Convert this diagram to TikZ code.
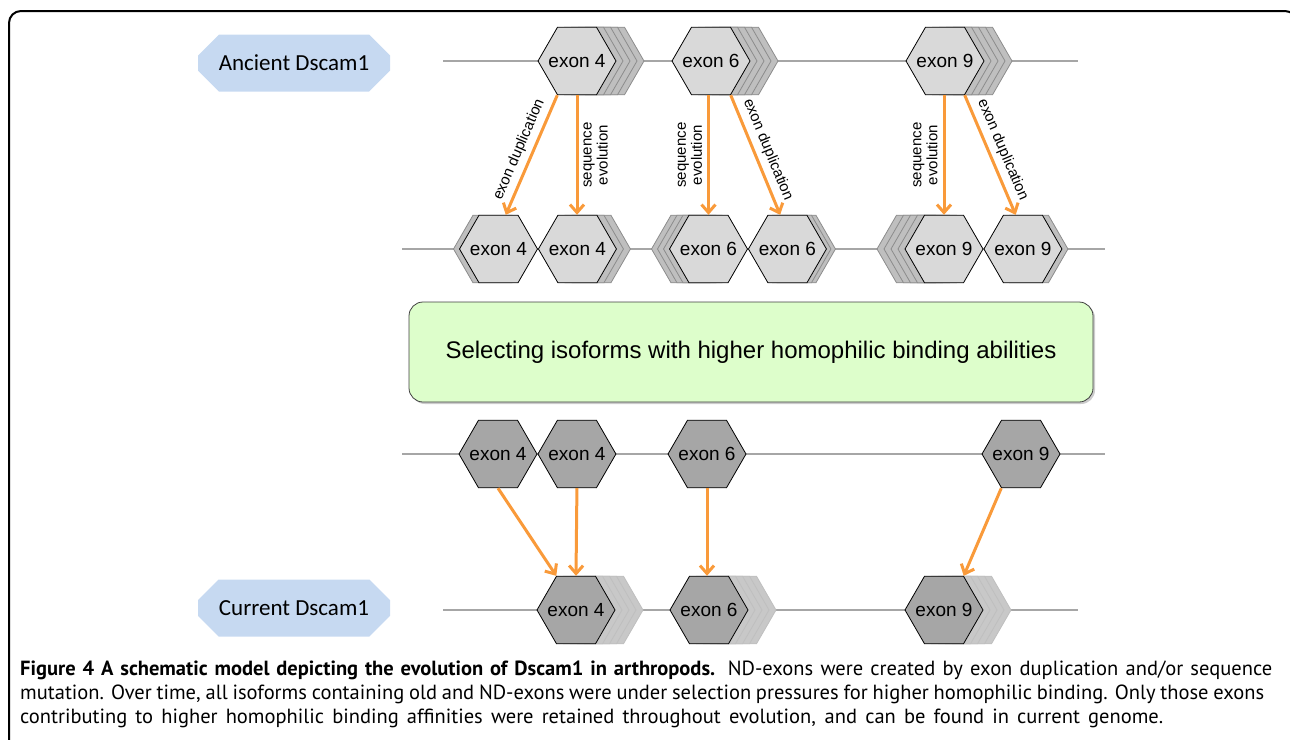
\documentclass[tikz,border=0pt]{standalone}
\usepackage{fontspec}
\usetikzlibrary{shapes.geometric,shapes.misc,arrows.meta,positioning,calc,shadows}
\pgfdeclarelayer{background}
\pgfdeclarelayer{bg1}
\pgfsetlayers{background,bg1,main}
\newfontfamily\hexfont{Liberation Sans}
\newfontfamily\labelfont{Carlito}
\newfontfamily\capfont{PT Sans}
\newcommand{\capline}[2]{\hbox to #1{#2}}
\newcommand{\exon}[1]{\makebox[0pt]{exon #1}}
\definecolor{oldcol}{HTML}{D9D9D9}
\definecolor{oldstackcol}{HTML}{BFBFBF}
\definecolor{newcol}{HTML}{A6A6A6}
\definecolor{newstackcol}{HTML}{C8C8C8}
\definecolor{arrowcol}{HTML}{F99A3A}
\definecolor{labelcol}{HTML}{C6D9F1}
\definecolor{selectcol}{HTML}{DDFECB}
\definecolor{linecol}{HTML}{A6A6A6}
\tikzstyle{evo}  = [-{Straight Barb[length=8pt,width=14pt]},arrowcol,line width=3pt]
\tikzstyle{gene} = [linecol,line width=2pt]
\tikzset{
  hex/.style = {
    regular polygon,
    regular polygon sides=6,
    minimum size=78pt,
    inner sep=0pt,
    draw,
    line width=0.8pt,
    font=\hexfont\fontsize{19pt}{22pt}\selectfont,
    },
  oldhex/.style = {hex, fill=oldcol},
  newhex/.style = {hex, fill=newcol},
  oldcopy/.style = {hex, fill=oldstackcol, draw=black!45},
  newcopy/.style = {hex, fill=newstackcol, draw=black!25},
  evolabel/.style = {
    text=black,
    align=center,
    inner sep=5pt,
    font=\hexfont\fontsize{15pt}{16pt}\selectfont,
    },
  genome/.style = {
    chamfered rectangle,
    chamfered rectangle xsep=17pt,
    chamfered rectangle ysep=13pt,
    fill=labelcol,
    minimum width=192pt,
    minimum height=57pt,
    inner sep=0pt,
    font=\labelfont\fontsize{23pt}{26pt}\selectfont,
    },
  selectbox/.style = {
    rectangle,
    rounded corners=14pt,
    draw=black!75,
    line width=0.8pt,
    fill=selectcol,
    minimum width=684pt,
    minimum height=100pt,
    drop shadow={shadow xshift=2pt,shadow yshift=-2pt,fill=black!40},
    font=\hexfont\fontsize{24pt}{28pt}\selectfont,
    },
  caption/.style = {
    align=left,
    inner sep=0pt,
    font=\capfont\fontsize{20.5pt}{24pt}\selectfont,
    },
}

\begin{document}
\begin{tikzpicture}[x=1pt,y=-1pt]
    \useasboundingbox (0,0) rectangle (1290,739);
    \draw[line width=2pt,rounded corners=12pt] (9,11) rectangle (1297,760);

    % ancient gene
    \node[genome] (ancient) at (294,63) {Ancient Dscam1};
    \node[oldhex] (a4) at (577,61) {\exon{4}};
    \node[oldhex] (a6) at (711,61) {\exon{6}};
    \node[oldhex] (a9) at (945,61) {\exon{9}};

    % after duplication and evolution
    \node[oldhex] (b4a) at (498.5,249) {\exon{4}};
    \node[oldhex,right=0pt of b4a] (b4b) {\exon{4}};
    \node[oldhex] (b6a) at (708.5,249) {\exon{6}};
    \node[oldhex,right=0pt of b6a] (b6b) {\exon{6}};
    \node[oldhex] (b9a) at (944,249) {\exon{9}};
    \node[oldhex,right=0pt of b9a] (b9b) {\exon{9}};

    \node[selectbox] (select) at (751,352) {Selecting isoforms with higher homophilic binding abilities};

    % selected isoforms
    \node[newhex] (c4a) at (498,454) {\exon{4}};
    \node[newhex,right=0pt of c4a] (c4b) {\exon{4}};
    \node[newhex] (c6) at (707,454) {\exon{6}};
    \node[newhex] (c9) at (1021,454) {\exon{9}};

    % current gene
    \node[genome] (current) at (294,608) {Current Dscam1};
    \node[newhex] (d4) at (576,610) {\exon{4}};
    \node[newhex] (d6) at (709,610) {\exon{6}};
    \node[newhex] (d9) at (944,610) {\exon{9}};

    % stacked copies
    \begin{pgfonlayer}{bg1}
        \foreach \n in {a4,a6,a9}
            \foreach \i in {4,3,2,1}
                \node[oldcopy] at ($(\n)+(\i*7,0)$) {};
        \foreach \n/\k/\s in {b4a/1/-6,b4b/2/7,b6a/3/-6,b6b/2/4.5,b9a/4/-7,b9b/1/6}
            \foreach \i in {\k,...,1}
                \node[oldcopy] at ($(\n)+(\i*\s,0)$) {};
        \foreach \n in {d4,d6,d9}
            \foreach \i in {4,3,2,1}
                \node[newcopy] at ($(\n)+(\i*7,0)$) {};
    \end{pgfonlayer}

    % gene lines
    \begin{pgfonlayer}{background}
        \coordinate (a-l) at (443,61);  \coordinate (a-r) at (1078,61);
        \coordinate (b-l) at (402,249); \coordinate (b-r) at (1105,249);
        \coordinate (c-l) at (402,454); \coordinate (c-r) at (1105,454);
        \coordinate (d-l) at (443,610); \coordinate (d-r) at (1078,610);
        \draw[gene] (a-l) -- (a-r);
        \draw[gene] (b-l) -- (b-r);
        \draw[gene] (c-l) -- (c-r);
        \draw[gene] (d-l) -- (d-r);
    \end{pgfonlayer}

    % Paths

    \draw[evo] (a4.240) -- node[evolabel,sloped,above] {exon duplication} (b4a.78);
    \draw[evo] (a4.270) -- node[evolabel,rotate=90,anchor=north] {sequence\\evolution} (a4.270 |- b4b.90);

    \draw[evo] (b6a.90 |- a6.270) -- node[evolabel,rotate=90,anchor=south] {sequence\\evolution} (b6a.90);
    \draw[evo] (a6.300) -- node[evolabel,sloped,above] {exon duplication} (b6b.102);

    \draw[evo] (b9a.90 |- a9.270) -- node[evolabel,rotate=90,anchor=south] {sequence\\evolution} (b9a.90);
    \draw[evo] (a9.300) -- node[evolabel,sloped,above] {exon duplication} (b9b.102);

    \draw[evo] (c4a.270) -- (d4.120);
    \draw[evo] (c4b.270) -- (d4.90);
    \draw[evo] (c6.270) -- (c6.270 |- d6.90);
    \draw[evo] (c9.240) -- (d9.60);

    % caption
    \node[caption,anchor=north west] (cap) at (20,661) {%
    \capline{1252pt}{\textbf{Figure 4 A schematic model depicting the evolution of Dscam1 in arthropods.} ND-exons were created by exon duplication and/or sequence}\\
    \capline{1244pt}{mutation. Over time, all isoforms containing old and ND-exons were under selection pressures for higher homophilic binding. Only those exons}\\
    \capline{1143pt}{contributing to higher homophilic binding affinities were retained throughout evolution, and can be found in current genome.}};

\end{tikzpicture}
\end{document}
